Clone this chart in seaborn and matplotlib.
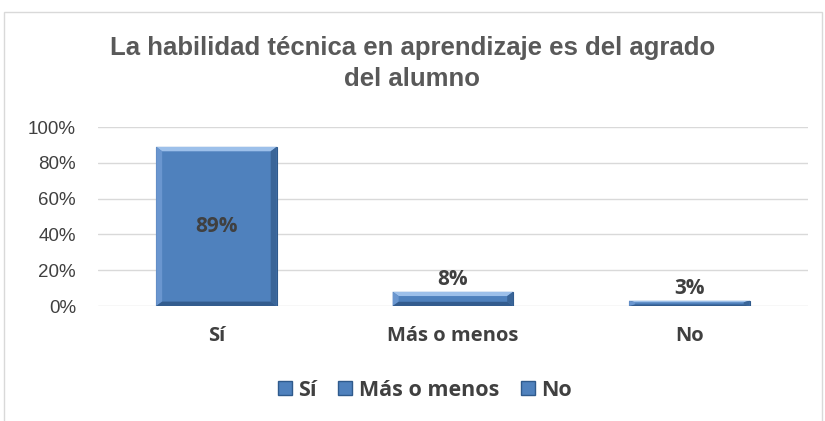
import matplotlib
matplotlib.use("Agg")
import matplotlib.pyplot as plt
import seaborn as sns
import pandas as pd
from matplotlib.patches import Rectangle, Polygon

categories = ["Sí", "Más o menos", "No"]
values = [0.89, 0.08, 0.03]
labels = ["89%", "8%", "3%"]
yticks = [0, 0.2, 0.4, 0.6, 0.8, 1.0]
ytick_labels = ["0%", "20%", "40%", "60%", "80%", "100%"]
title = "La habilidad técnica en aprendizaje es del agrado\ndel alumno"

sns.set_theme(style="white")
plt.rcParams['font.family'] = ['Open Sans', 'DejaVu Sans']

df = pd.DataFrame({"cat": categories, "val": values})
blue = "#4F81BD"
fig = plt.figure(figsize=(8.25, 4.21), dpi=100)
ax = fig.add_axes([0.119, 0.273, 0.86, 0.425])
sns.barplot(data=df, x="cat", y="val", hue="cat", palette=[blue]*3, dodge=False,
            saturation=1, width=0.51, ax=ax, legend=False, edgecolor="#2F5A8C",
            linewidth=0.8, zorder=3)

ax.set_ylim(0, 1.0)
ax.set_yticks(yticks)
ax.set_yticklabels(ytick_labels, fontsize=13.5, color="#404040", family="Liberation Sans")
ax.tick_params(axis='y', length=0, pad=16)
ax.tick_params(axis='x', length=0, pad=14)
for t in ax.get_xticklabels():
    t.set_fontweight("bold"); t.set_fontsize(14.5); t.set_color("#404040")
ax.set_xlabel(""); ax.set_ylabel("")
ax.grid(axis='y', color="#D9D9D9", linewidth=1, zorder=0)
for s in ax.spines.values():
    s.set_visible(False)

# bevel highlights derived from bar patches
for p in ax.patches:
    x0, y0 = p.get_x(), p.get_y()
    w, h = p.get_width(), p.get_height()
    bw = w * 0.05
    bh = min(0.025, h * 0.3)
    top = Polygon([(x0, y0+h), (x0+w, y0+h), (x0+w-bw, y0+h-bh), (x0+bw, y0+h-bh)],
                  closed=True, facecolor="#9DC0EA", edgecolor="none", zorder=4)
    left = Polygon([(x0, y0), (x0, y0+h), (x0+bw, y0+h-bh), (x0+bw, y0+bh)],
                   closed=True, facecolor="#6A96CF", edgecolor="none", zorder=4)
    right = Polygon([(x0+w, y0), (x0+w, y0+h), (x0+w-bw, y0+h-bh), (x0+w-bw, y0+bh)],
                    closed=True, facecolor="#3A6598", edgecolor="none", zorder=4)
    bot = Polygon([(x0, y0), (x0+w, y0), (x0+w-bw, y0+bh), (x0+bw, y0+bh)],
                  closed=True, facecolor="#335C8E", edgecolor="none", zorder=4)
    for q in (top, left, right, bot):
        ax.add_patch(q)

for i, (v, lab) in enumerate(zip(values, labels)):
    if v > 0.5:
        ax.text(i, v/2, lab, ha="center", va="center", fontsize=15, fontweight="bold", color="#404040", zorder=5)
    else:
        ax.text(i, v + 0.012, lab, ha="center", va="bottom", fontsize=15, fontweight="bold", color="#404040", zorder=5)

fig.text(0.5, 0.85, title, ha="center", va="center", fontsize=18.5, fontweight="bold",
         color="#595959", family="Liberation Sans", linespacing=1.38)

# legend
handles = [Rectangle((0, 0), 1, 1, facecolor=blue, edgecolor="#2F5A8C") for _ in categories]
leg = fig.legend(handles, categories, loc="center", bbox_to_anchor=(0.515, 0.073), ncol=3,
                 frameon=False, handlelength=0.65, handleheight=0.65, handletextpad=0.3,
                 columnspacing=1.0, prop={"weight": "bold", "size": 15.5, "family": "Open Sans"})
for t in leg.get_texts():
    t.set_color("#404040")

# chart border
fig.add_artist(Rectangle((4/825, -0.05), (822-4)/825, 1.05 - 12/421, transform=fig.transFigure,
                         fill=False, edgecolor="#D9D9D9", linewidth=1))

fig.savefig("out.png", dpi=100)
